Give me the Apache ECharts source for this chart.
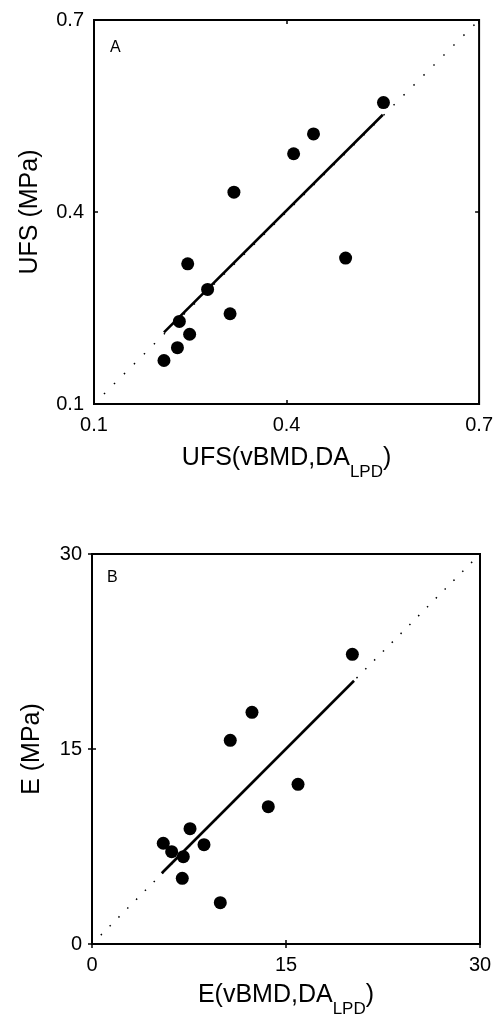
<!DOCTYPE html>
<html>
<head>
<meta charset="utf-8">
<title>UFS and E: measured vs. predicted</title>
<script src="https://cdn.jsdelivr.net/npm/echarts@6/dist/echarts.min.js"></script>
<style>
  html, body { margin: 0; padding: 0; background: #fff; }
  #chart { width: 496px; height: 1021px; }
</style>
</head>
<body>
<div id="chart"></div>
<script>
// Panel A: ultimate failure stress, predicted (x) vs measured (y), MPa
const ufsPredicted = [0.551, 0.442, 0.411, 0.318, 0.492, 0.246, 0.277, 0.312, 0.233, 0.249, 0.230, 0.209];
const ufsMeasured  = [0.571, 0.522, 0.491, 0.431, 0.328, 0.319, 0.279, 0.241, 0.229, 0.209, 0.188, 0.168];
const ufsFitX = [0.209, 0.550];
const ufsFitY = [0.212, 0.552];
const ufsTicks = [0.1, 0.4, 0.7];

// Panel B: elastic modulus, predicted (x) vs measured (y), MPa
const ePredicted = [20.13, 12.37, 10.69, 15.93, 13.63, 7.58, 5.51, 8.66, 6.16, 7.06, 6.98, 9.92];
const eMeasured  = [22.28, 17.82, 15.67, 12.28, 10.56, 8.87, 7.75, 7.64, 7.10, 6.72, 5.05, 3.18];
const eFitX = [5.39, 20.26];
const eFitY = [5.44, 20.25];
const eTicks = [0, 15, 30];

const FONT = '"Liberation Sans", Arial, sans-serif';

const zip = (xs, ys) => xs.map((x, i) => [x, ys[i]]);
const ends = t => [t[0], t[t.length - 1]];

function xName(main) {
  return {
    text: '{m|' + main + '}{s|LPD}{m|)}',
    style: {
      color: '#000',
      rich: {
        m: { fontSize: 25, fontFamily: FONT, color: '#000', lineHeight: 28, verticalAlign: 'top' },
        s: { fontSize: 17, fontFamily: FONT, color: '#000', padding: [18, 0, 0, 0], verticalAlign: 'top' }
      }
    }
  };
}

function axisPair(kind, ticks, gridIndex, nameInfo, nameGap) {
  const [lo, hi] = ends(ticks);
  const base = {
    type: 'value',
    gridIndex,
    min: lo,
    max: hi,
    splitLine: { show: false },
    axisLine: { show: false },
    axisTick: {
      show: true, inside: true, length: 4, customValues: ticks,
      lineStyle: { color: '#000', width: 1.5 }
    }
  };
  const primary = Object.assign({}, base, {
    position: kind === 'x' ? 'bottom' : 'left',
    axisLabel: {
      show: true, customValues: ticks, fontSize: 20, fontFamily: FONT, color: '#000',
      margin: kind === 'x' ? 11 : 10
    },
    name: nameInfo.text,
    nameLocation: 'middle',
    nameGap,
    nameTextStyle: Object.assign({ fontSize: 25, fontFamily: FONT }, nameInfo.style)
  });
  const secondary = Object.assign({}, base, {
    position: kind === 'x' ? 'top' : 'right',
    axisLabel: { show: false }
  });
  return [primary, secondary];
}

const plainName = t => ({ text: t, style: { color: '#000' } });

const [axA, axA2] = axisPair('x', ufsTicks, 0, xName('UFS(vBMD,DA'), 42);
const [ayA, ayA2] = axisPair('y', ufsTicks, 0, plainName('UFS (MPa)'), 51);
const [axB, axB2] = axisPair('x', eTicks, 1, xName('E(vBMD,DA'), 39);
const [ayB, ayB2] = axisPair('y', eTicks, 1, plainName('E (MPa)'), 47);

function panelSeries(ax, ticks, px, py, fx, fy, dash) {
  const [lo, hi] = ends(ticks);
  return [
    {
      type: 'line', xAxisIndex: ax, yAxisIndex: ax, silent: true,
      data: [[lo, lo], [hi, hi]], symbol: 'none', z: 1,
      lineStyle: { color: '#000', width: 1.5, type: dash }
    },
    {
      type: 'line', xAxisIndex: ax, yAxisIndex: ax, silent: true,
      data: zip(fx, fy), symbol: 'none', z: 2,
      lineStyle: { color: '#000', width: 2.6 }
    },
    {
      type: 'scatter', xAxisIndex: ax, yAxisIndex: ax, silent: true,
      data: zip(px, py), symbol: 'circle', symbolSize: 13, z: 3,
      itemStyle: { color: '#000', opacity: 1 }
    }
  ];
}

const chart = echarts.init(document.getElementById('chart'), null, { renderer: 'canvas' });
chart.setOption({
  animation: false,
  backgroundColor: '#fff',
  grid: [
    { left: 94, top: 20, width: 386, height: 384, show: true, borderColor: '#000', borderWidth: 2, backgroundColor: 'transparent' },
    { left: 92, top: 554, width: 388, height: 390, show: true, borderColor: '#000', borderWidth: 2, backgroundColor: 'transparent' }
  ],
  xAxis: [axA, axA2, axB, axB2],
  yAxis: [ayA, ayA2, ayB, ayB2],
  graphic: [
    { type: 'text', left: 110, top: 40, style: { text: 'A', fontSize: 16, fontFamily: FONT, fill: '#000' } },
    { type: 'text', left: 107, top: 570, style: { text: 'B', fontSize: 16, fontFamily: FONT, fill: '#000' } }
  ],
  series: [
    ...panelSeries(0, ufsTicks, ufsPredicted, ufsMeasured, ufsFitX, ufsFitY, [1.5, 12.6]),
    ...panelSeries(2, eTicks, ePredicted, eMeasured, eFitX, eFitY, [1.5, 11])
  ]
});
</script>
</body>
</html>
